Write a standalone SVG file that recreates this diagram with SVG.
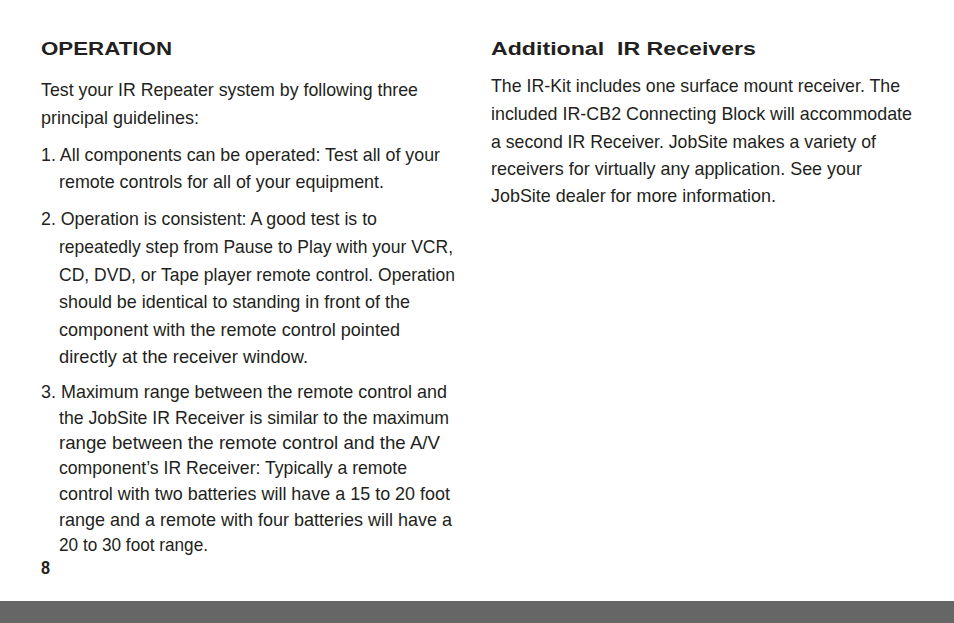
<svg xmlns="http://www.w3.org/2000/svg" width="954" height="623" viewBox="0 0 954 623">
<style>
.b{font-family:"Liberation Sans",Arial,sans-serif;font-size:19px;fill:#231f20}
.h{font-family:"Liberation Sans",Arial,sans-serif;font-size:18px;font-weight:bold;fill:#231f20}
</style>
<rect width="954" height="623" fill="#fff"/>
<rect x="0" y="601" width="954" height="22" fill="#666"/>
<g id="left">
<text class="h" x="41" y="55" textLength="131" lengthAdjust="spacingAndGlyphs">OPERATION</text>
<text class="b" x="41" y="96" textLength="377" lengthAdjust="spacingAndGlyphs">Test your IR Repeater system by following three</text>
<text class="b" x="41" y="124" textLength="158" lengthAdjust="spacingAndGlyphs">principal guidelines:</text>
<text class="b" x="41" y="161" textLength="399" lengthAdjust="spacingAndGlyphs">1. All components can be operated: Test all of your</text>
<text class="b" x="59" y="188" textLength="325" lengthAdjust="spacingAndGlyphs">remote controls for all of your equipment.</text>
<text class="b" x="41" y="225" textLength="336" lengthAdjust="spacingAndGlyphs">2. Operation is consistent: A good test is to</text>
<text class="b" x="59" y="253" textLength="394" lengthAdjust="spacingAndGlyphs">repeatedly step from Pause to Play with your VCR,</text>
<text class="b" x="59" y="281" textLength="396" lengthAdjust="spacingAndGlyphs">CD, DVD, or Tape player remote control. Operation</text>
<text class="b" x="59" y="308" textLength="351" lengthAdjust="spacingAndGlyphs">should be identical to standing in front of the</text>
<text class="b" x="59" y="336" textLength="341" lengthAdjust="spacingAndGlyphs">component with the remote control pointed</text>
<text class="b" x="59" y="363" textLength="249" lengthAdjust="spacingAndGlyphs">directly at the receiver window.</text>
<text class="b" x="41" y="398" textLength="406" lengthAdjust="spacingAndGlyphs">3. Maximum range between the remote control and</text>
<text class="b" x="59" y="424" textLength="390" lengthAdjust="spacingAndGlyphs">the JobSite IR Receiver is similar to the maximum</text>
<text class="b" x="59" y="449" textLength="381" lengthAdjust="spacingAndGlyphs">range between the remote control and the A/V</text>
<text class="b" x="59" y="474" textLength="348" lengthAdjust="spacingAndGlyphs">component’s IR Receiver: Typically a remote</text>
<text class="b" x="59" y="500" textLength="391" lengthAdjust="spacingAndGlyphs">control with two batteries will have a 15 to 20 foot</text>
<text class="b" x="59" y="526" textLength="393" lengthAdjust="spacingAndGlyphs">range and a remote with four batteries will have a</text>
<text class="b" x="59" y="551" textLength="149" lengthAdjust="spacingAndGlyphs">20 to 30 foot range.</text>
<text class="h" x="41" y="574" textLength="9" lengthAdjust="spacingAndGlyphs">8</text>
</g>
<g id="right">
<text class="h" x="491" y="55" textLength="265" lengthAdjust="spacingAndGlyphs" xml:space="preserve">Additional  IR Receivers</text>
<text class="b" x="491" y="92" textLength="409" lengthAdjust="spacingAndGlyphs">The IR-Kit includes one surface mount receiver. The</text>
<text class="b" x="491" y="120" textLength="421" lengthAdjust="spacingAndGlyphs">included IR-CB2 Connecting Block will accommodate</text>
<text class="b" x="491" y="148" textLength="385" lengthAdjust="spacingAndGlyphs">a second IR Receiver. JobSite makes a variety of</text>
<text class="b" x="491" y="175" textLength="371" lengthAdjust="spacingAndGlyphs">receivers for virtually any application. See your</text>
<text class="b" x="491" y="202" textLength="285" lengthAdjust="spacingAndGlyphs">JobSite dealer for more information.</text>
</g>
</svg>
